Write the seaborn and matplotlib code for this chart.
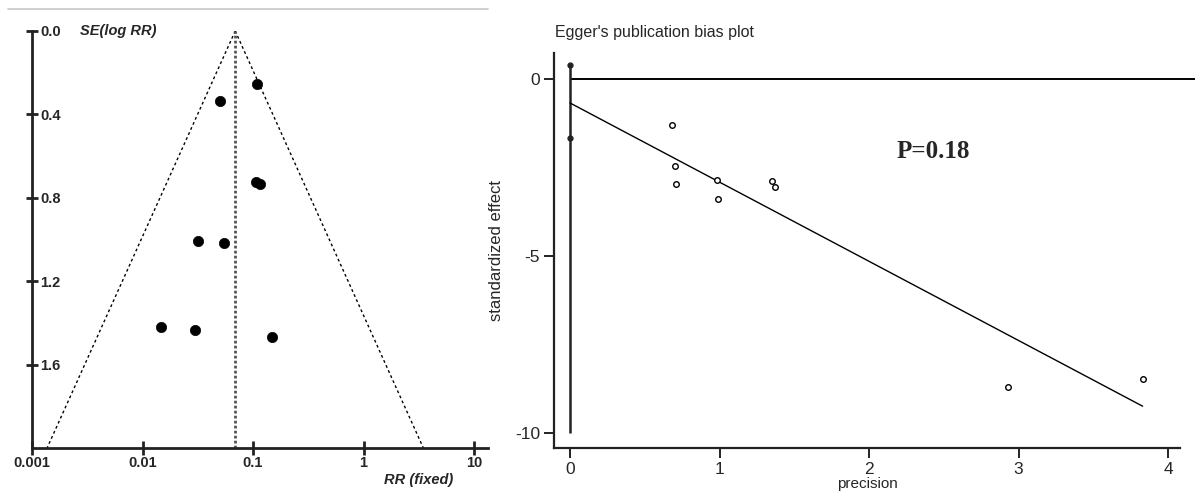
import numpy as np
import pandas as pd
import matplotlib
matplotlib.use("Agg")
import matplotlib.pyplot as plt
from matplotlib.lines import Line2D
import seaborn as sns

# ---------------- data ----------------
# Funnel plot (left)
funnel_rr = [0.109, 0.0505, 0.106, 0.1156, 0.032, 0.0548, 0.0148, 0.030, 0.148]
funnel_se = [0.254, 0.335, 0.723, 0.733, 1.006, 1.016, 1.418, 1.432, 1.47]
pooled_rr = 0.069
se_max = 2.0
funnel_xticks = [0.001, 0.01, 0.1, 1, 10]
funnel_xticklabels = ["0.001", "0.01", "0.1", "1", "10"]
funnel_yticks = [0.0, 0.4, 0.8, 1.2, 1.6]
funnel_yticklabels = ["0.0", "0.4", "0.8", "1.2", "1.6"]

# Egger plot (right)
precision = [0.68, 0.70, 0.71, 0.98, 0.99, 1.35, 1.37, 2.93, 3.83]
std_effect = [-1.30, -2.46, -2.97, -2.85, -3.39, -2.88, -3.05, -8.70, -8.47]
egger_intercept = -0.68
egger_slope = -2.235
intercept_ci = [0.40, -1.67]
egger_xticks = [0, 1, 2, 3, 4]
egger_yticks = [0, -5, -10]
p_text = "P=0.18"

# ---------------- figure ----------------
sns.set_theme(style="white")
plt.rcParams["font.family"] = ["Liberation Sans", "DejaVu Sans"]
plt.rcParams["axes.unicode_minus"] = False

W, H = 1200, 497
fig = plt.figure(figsize=(W / 100, H / 100), dpi=100)

def fx(px):
    return px / W

def fy(py):
    return 1 - py / H

# thin gray separator at the top-left
fig.add_artist(Line2D([fx(8), fx(488)], [fy(9), fy(9)], color="#c8c8c8", lw=1.2,
                      transform=fig.transFigure))

# ---------- left: funnel plot ----------
axL = fig.add_axes([fx(32), fy(448), fx(488 - 32), fy(31) - fy(448)])
df_f = pd.DataFrame({"rr": funnel_rr, "se": funnel_se})
axL.set_xscale("log")
axL.set_xlim(0.001, 10 ** (1 + 14 / 111))
axL.set_ylim(se_max, 0)

se_line = np.linspace(0, se_max, 50)
lo = np.exp(np.log(pooled_rr) - 1.96 * se_line)
hi = np.exp(np.log(pooled_rr) + 1.96 * se_line)
axL.plot(lo, se_line, color="black", lw=1.0, ls=(0, (2, 2)))
axL.plot(hi, se_line, color="black", lw=1.0, ls=(0, (2, 2)))
axL.axvline(pooled_rr, color="#555555", lw=2.0, ls=(0, (1, 0.8)))

sns.scatterplot(data=df_f, x="rr", y="se", ax=axL, color="black", s=55,
                marker="o", edgecolor="black", linewidth=0.5, zorder=5)
axL.set_xlabel("")
axL.set_ylabel("")

for s in ["top", "right"]:
    axL.spines[s].set_visible(False)
for s in ["left", "bottom"]:
    axL.spines[s].set_linewidth(2.0)
    axL.spines[s].set_color("#222222")

axL.set_xticks(funnel_xticks)
axL.set_xticklabels(funnel_xticklabels)
axL.xaxis.set_minor_locator(matplotlib.ticker.NullLocator())
axL.set_yticks(funnel_yticks)
axL.set_yticklabels(funnel_yticklabels)
axL.tick_params(axis="x", direction="inout", length=10, width=2, bottom=True,
                labelsize=10.5, pad=1, color="#222222")
axL.tick_params(axis="y", direction="inout", length=8, width=2, left=True,
                labelsize=10.5, pad=-10, color="#222222")
for lab in axL.get_yticklabels():
    lab.set_ha("left")
    lab.set_fontweight("bold")
for lab in axL.get_xticklabels():
    lab.set_fontweight("bold")

fig.text(fx(80), fy(31), "SE(log RR)", fontsize=10.5, fontweight="bold",
         fontstyle="italic", ha="left", va="center")
fig.text(fx(453), fy(480), "RR (fixed)", fontsize=10.5, fontweight="bold",
         fontstyle="italic", ha="right", va="center")

# ---------- right: Egger plot ----------
x0, x1 = -0.107, 4.08
y0, y1 = -10.42, 0.73
axR = fig.add_axes([fx(554), fy(448), fx(1180 - 554), fy(53) - fy(448)])
axR.set_xlim(x0, x1)
axR.set_ylim(y0, y1)

df_e = pd.DataFrame({"precision": precision, "effect": std_effect})
axR.hlines(0, 0, 4.18, color="black", lw=1.4, clip_on=False)
axR.vlines(0, egger_yticks[-1], intercept_ci[0], color="#222222", lw=1.8)
axR.plot([0, 0], intercept_ci, ls="none", marker="o", ms=3.5, color="#222222")

xr = np.array([0, max(precision)])
df_line = pd.DataFrame({"x": xr, "y": egger_intercept + egger_slope * xr})
sns.lineplot(data=df_line, x="x", y="y", ax=axR, color="black", lw=1.0)

sns.scatterplot(data=df_e, x="precision", y="effect", ax=axR, s=16,
                facecolor="white", edgecolor="black", linewidth=1.0, zorder=5)

for s in ["top", "right"]:
    axR.spines[s].set_visible(False)
for s in ["left", "bottom"]:
    axR.spines[s].set_linewidth(1.6)
    axR.spines[s].set_color("#222222")

axR.set_xticks(egger_xticks)
axR.set_yticks(egger_yticks)
axR.tick_params(axis="both", direction="out", length=7, width=1.4, bottom=True,
                left=True, labelsize=12.5, color="#222222", pad=3)
axR.set_xlabel("precision", fontsize=11, labelpad=0)
axR.set_ylabel("standardized effect", fontsize=12, labelpad=8)
fig.text(fx(555), fy(33), "Egger's publication bias plot", fontsize=11.5,
         ha="left", va="center")
axR.text(2.43, -2.06, p_text, fontsize=18, fontweight="bold",
         family=["Liberation Serif", "DejaVu Serif"], ha="center", va="center")

fig.savefig("out.png", dpi=100)
